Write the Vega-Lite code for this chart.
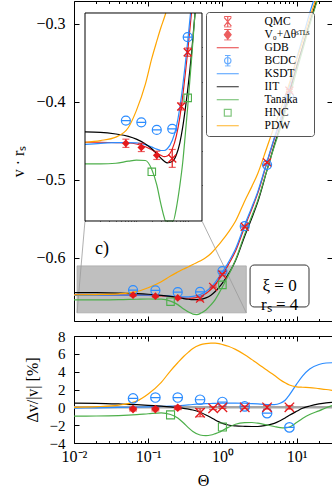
{
"$schema": "https://vega.github.io/schema/vega-lite/v6.json",
"padding": {"left": 10, "top": 0, "right": 2, "bottom": 2},
"config": {
  "font": "Liberation Serif",
  "view": {"stroke": "black", "strokeWidth": 1},
  "axis": {"grid": false, "domain": false, "tickColor": "black", "tickWidth": 1, "labelFont": "Liberation Serif", "labelFontSize": 16, "labelColor": "black", "titleFont": "Liberation Serif", "titleFontSize": 16, "titleFontWeight": "normal", "titleColor": "black", "zindex": 1, "labelFlush": false, "labelOverlap": false},
  "legend": {"symbolFillColor": "transparent"}
},
"datasets": {
  "curves": [
    {"t":0.01,"m":"GDB","v":-0.6476},{"t":0.02,"m":"GDB","v":-0.6476},{"t":0.04,"m":"GDB","v":-0.6477},{"t":0.07,"m":"GDB","v":-0.6478},{"t":0.1,"m":"GDB","v":-0.6481},{"t":0.15,"m":"GDB","v":-0.6489},{"t":0.2,"m":"GDB","v":-0.6498},{"t":0.25,"m":"GDB","v":-0.6507},{"t":0.3,"m":"GDB","v":-0.6514},{"t":0.35,"m":"GDB","v":-0.6518},{"t":0.4,"m":"GDB","v":-0.6516},{"t":0.5,"m":"GDB","v":-0.6496},{"t":0.6,"m":"GDB","v":-0.6458},{"t":0.7,"m":"GDB","v":-0.6405},{"t":0.8,"m":"GDB","v":-0.6342},{"t":0.9,"m":"GDB","v":-0.6276},{"t":1,"m":"GDB","v":-0.6212},{"t":1.184,"m":"GDB","v":-0.61},{"t":1.2,"m":"GDB","v":-0.609},{"t":1.5,"m":"GDB","v":-0.5915},{"t":2,"m":"GDB","v":-0.56},{"t":2.5,"m":"GDB","v":-0.537},{"t":3,"m":"GDB","v":-0.517},{"t":4,"m":"GDB","v":-0.4775},{"t":5,"m":"GDB","v":-0.4475},{"t":6,"m":"GDB","v":-0.425},{"t":7,"m":"GDB","v":-0.404},{"t":8,"m":"GDB","v":-0.3855},{"t":10,"m":"GDB","v":-0.354},{"t":12,"m":"GDB","v":-0.33},{"t":15,"m":"GDB","v":-0.299},{"t":20,"m":"GDB","v":-0.262},{"t":25,"m":"GDB","v":-0.233},{"t":30,"m":"GDB","v":-0.209},
    {"t":0.01,"m":"KSDT","v":-0.6482},{"t":0.02,"m":"KSDT","v":-0.6479},{"t":0.04,"m":"KSDT","v":-0.6477},{"t":0.07,"m":"KSDT","v":-0.6477},{"t":0.1,"m":"KSDT","v":-0.6478},{"t":0.15,"m":"KSDT","v":-0.6483},{"t":0.2,"m":"KSDT","v":-0.649},{"t":0.25,"m":"KSDT","v":-0.6496},{"t":0.3,"m":"KSDT","v":-0.65},{"t":0.35,"m":"KSDT","v":-0.65},{"t":0.4,"m":"KSDT","v":-0.6495},{"t":0.5,"m":"KSDT","v":-0.6471},{"t":0.6,"m":"KSDT","v":-0.6432},{"t":0.7,"m":"KSDT","v":-0.6377},{"t":0.8,"m":"KSDT","v":-0.6313},{"t":0.9,"m":"KSDT","v":-0.6247},{"t":1,"m":"KSDT","v":-0.6183},{"t":1.136,"m":"KSDT","v":-0.61},{"t":1.2,"m":"KSDT","v":-0.6061},{"t":1.5,"m":"KSDT","v":-0.5887},{"t":2,"m":"KSDT","v":-0.5574},{"t":2.5,"m":"KSDT","v":-0.5347},{"t":3,"m":"KSDT","v":-0.515},{"t":4,"m":"KSDT","v":-0.476},{"t":5,"m":"KSDT","v":-0.4462},{"t":6,"m":"KSDT","v":-0.4231},{"t":7,"m":"KSDT","v":-0.4008},{"t":8,"m":"KSDT","v":-0.3797},{"t":10,"m":"KSDT","v":-0.3448},{"t":12,"m":"KSDT","v":-0.3185},{"t":15,"m":"KSDT","v":-0.2861},{"t":20,"m":"KSDT","v":-0.2494},{"t":25,"m":"KSDT","v":-0.2214},{"t":30,"m":"KSDT","v":-0.1986},
    {"t":0.01,"m":"IIT","v":-0.6446},{"t":0.02,"m":"IIT","v":-0.6447},{"t":0.04,"m":"IIT","v":-0.6452},{"t":0.07,"m":"IIT","v":-0.6459},{"t":0.1,"m":"IIT","v":-0.6467},{"t":0.15,"m":"IIT","v":-0.6481},{"t":0.2,"m":"IIT","v":-0.6495},{"t":0.25,"m":"IIT","v":-0.6509},{"t":0.3,"m":"IIT","v":-0.6522},{"t":0.35,"m":"IIT","v":-0.6531},{"t":0.4,"m":"IIT","v":-0.6536},{"t":0.5,"m":"IIT","v":-0.6532},{"t":0.6,"m":"IIT","v":-0.6513},{"t":0.7,"m":"IIT","v":-0.6479},{"t":0.8,"m":"IIT","v":-0.6432},{"t":0.9,"m":"IIT","v":-0.6378},{"t":1,"m":"IIT","v":-0.6324},{"t":1.2,"m":"IIT","v":-0.6211},{"t":1.392,"m":"IIT","v":-0.61},{"t":1.5,"m":"IIT","v":-0.6038},{"t":2,"m":"IIT","v":-0.5719},{"t":2.5,"m":"IIT","v":-0.5485},{"t":3,"m":"IIT","v":-0.5281},{"t":4,"m":"IIT","v":-0.4871},{"t":5,"m":"IIT","v":-0.4556},{"t":6,"m":"IIT","v":-0.4314},{"t":7,"m":"IIT","v":-0.4088},{"t":8,"m":"IIT","v":-0.389},{"t":10,"m":"IIT","v":-0.3556},{"t":12,"m":"IIT","v":-0.3303},{"t":15,"m":"IIT","v":-0.2986},{"t":20,"m":"IIT","v":-0.261},{"t":25,"m":"IIT","v":-0.2318},{"t":30,"m":"IIT","v":-0.2079},
    {"t":0.01,"m":"Tanaka","v":-0.6539},{"t":0.02,"m":"Tanaka","v":-0.6539},{"t":0.04,"m":"Tanaka","v":-0.6537},{"t":0.07,"m":"Tanaka","v":-0.6531},{"t":0.1,"m":"Tanaka","v":-0.6528},{"t":0.15,"m":"Tanaka","v":-0.6529},{"t":0.2,"m":"Tanaka","v":-0.6555},{"t":0.25,"m":"Tanaka","v":-0.66},{"t":0.3,"m":"Tanaka","v":-0.6655},{"t":0.35,"m":"Tanaka","v":-0.6695},{"t":0.3685,"m":"Tanaka","v":-0.6705},{"t":0.4,"m":"Tanaka","v":-0.6722},{"t":0.45,"m":"Tanaka","v":-0.6728},{"t":0.5,"m":"Tanaka","v":-0.6715},{"t":0.521,"m":"Tanaka","v":-0.6705},{"t":0.6,"m":"Tanaka","v":-0.6668},{"t":0.7,"m":"Tanaka","v":-0.6604},{"t":0.8,"m":"Tanaka","v":-0.6535},{"t":0.9,"m":"Tanaka","v":-0.6452},{"t":1,"m":"Tanaka","v":-0.6374},{"t":1.2,"m":"Tanaka","v":-0.6227},{"t":1.39,"m":"Tanaka","v":-0.61},{"t":1.5,"m":"Tanaka","v":-0.6027},{"t":2,"m":"Tanaka","v":-0.5696},{"t":2.5,"m":"Tanaka","v":-0.5461},{"t":3,"m":"Tanaka","v":-0.5262},{"t":4,"m":"Tanaka","v":-0.487},{"t":5,"m":"Tanaka","v":-0.4571},{"t":6,"m":"Tanaka","v":-0.4347},{"t":7,"m":"Tanaka","v":-0.4133},{"t":8,"m":"Tanaka","v":-0.394},{"t":10,"m":"Tanaka","v":-0.36},{"t":12,"m":"Tanaka","v":-0.3341},{"t":15,"m":"Tanaka","v":-0.3014},{"t":20,"m":"Tanaka","v":-0.263},{"t":25,"m":"Tanaka","v":-0.2331},{"t":30,"m":"Tanaka","v":-0.2086},
    {"t":0.01,"m":"PDW","v":-0.6476},{"t":0.02,"m":"PDW","v":-0.6471},{"t":0.04,"m":"PDW","v":-0.6461},{"t":0.07,"m":"PDW","v":-0.6433},{"t":0.1,"m":"PDW","v":-0.6384},{"t":0.15,"m":"PDW","v":-0.6307},{"t":0.2,"m":"PDW","v":-0.6232},{"t":0.25,"m":"PDW","v":-0.6182},{"t":0.3,"m":"PDW","v":-0.6143},{"t":0.35,"m":"PDW","v":-0.6114},{"t":0.375,"m":"PDW","v":-0.61},{"t":0.4,"m":"PDW","v":-0.6086},{"t":0.5,"m":"PDW","v":-0.6041},{"t":0.6,"m":"PDW","v":-0.5996},{"t":0.7,"m":"PDW","v":-0.5944},{"t":0.8,"m":"PDW","v":-0.5885},{"t":0.9,"m":"PDW","v":-0.5827},{"t":1,"m":"PDW","v":-0.5774},{"t":1.2,"m":"PDW","v":-0.5673},{"t":1.5,"m":"PDW","v":-0.5531},{"t":2,"m":"PDW","v":-0.527},{"t":2.5,"m":"PDW","v":-0.5083},{"t":3,"m":"PDW","v":-0.4917},{"t":4,"m":"PDW","v":-0.4577},{"t":5,"m":"PDW","v":-0.4314},{"t":6,"m":"PDW","v":-0.4118},{"t":7,"m":"PDW","v":-0.3929},{"t":8,"m":"PDW","v":-0.3759},{"t":10,"m":"PDW","v":-0.3459},{"t":12,"m":"PDW","v":-0.3226},{"t":15,"m":"PDW","v":-0.2924},{"t":20,"m":"PDW","v":-0.2565},{"t":25,"m":"PDW","v":-0.2283},{"t":30,"m":"PDW","v":-0.205}
  ],
  "pts": [
    {"s":"QMC","t":0.5,"v":-0.6523,"e":0.0026},{"s":"QMC","t":0.75,"v":-0.6372,"e":0.001},{"s":"QMC","t":1,"v":-0.6214,"e":0.0012},{"s":"QMC","t":2,"v":-0.56,"e":0.001},{"s":"QMC","t":4,"v":-0.4775,"e":0.0012},{"s":"QMC","t":8,"v":-0.3855,"e":0.0015},
    {"s":"V0","t":0.0625,"v":-0.6479,"e":0.0012},{"s":"V0","t":0.125,"v":-0.6491,"e":0.0012},{"s":"V0","t":0.25,"v":-0.6514,"e":0.0012},
    {"s":"BCDC","t":0.0625,"v":-0.6413,"e":0},{"s":"BCDC","t":0.125,"v":-0.6418,"e":0},{"s":"BCDC","t":0.25,"v":-0.644,"e":0},{"s":"BCDC","t":0.5,"v":-0.6437,"e":0},{"s":"BCDC","t":1,"v":-0.617,"e":0},{"s":"BCDC","t":2,"v":-0.5594,"e":0},{"s":"BCDC","t":4,"v":-0.4806,"e":0},{"s":"BCDC","t":8,"v":-0.3942,"e":0},
    {"s":"HNC","t":0.2,"v":-0.6562,"e":0},{"s":"HNC","t":1,"v":-0.6347,"e":0}
  ],
  "dev": [
    {"t":0.01,"m":"KSDT","v":-0.1},{"t":0.02,"m":"KSDT","v":-0.05},{"t":0.04,"m":"KSDT","v":0},{"t":0.07,"m":"KSDT","v":0.02},{"t":0.1,"m":"KSDT","v":0.05},{"t":0.15,"m":"KSDT","v":0.1},{"t":0.2,"m":"KSDT","v":0.13},{"t":0.25,"m":"KSDT","v":0.17},{"t":0.3,"m":"KSDT","v":0.22},{"t":0.35,"m":"KSDT","v":0.27},{"t":0.4,"m":"KSDT","v":0.32},{"t":0.5,"m":"KSDT","v":0.38},{"t":0.6,"m":"KSDT","v":0.41},{"t":0.7,"m":"KSDT","v":0.43},{"t":0.8,"m":"KSDT","v":0.45},{"t":0.9,"m":"KSDT","v":0.46},{"t":1,"m":"KSDT","v":0.47},{"t":1.2,"m":"KSDT","v":0.48},{"t":1.5,"m":"KSDT","v":0.48},{"t":2,"m":"KSDT","v":0.46},{"t":2.5,"m":"KSDT","v":0.42},{"t":3,"m":"KSDT","v":0.38},{"t":4,"m":"KSDT","v":0.32},{"t":5,"m":"KSDT","v":0.3},{"t":6,"m":"KSDT","v":0.45},{"t":7,"m":"KSDT","v":0.8},{"t":8,"m":"KSDT","v":1.4},{"t":10,"m":"KSDT","v":2.6},{"t":12,"m":"KSDT","v":3.5},{"t":15,"m":"KSDT","v":4.3},{"t":20,"m":"KSDT","v":4.8},{"t":25,"m":"KSDT","v":4.97},{"t":30,"m":"KSDT","v":5.0},
    {"t":0.01,"m":"IIT","v":0.47},{"t":0.02,"m":"IIT","v":0.45},{"t":0.04,"m":"IIT","v":0.38},{"t":0.07,"m":"IIT","v":0.3},{"t":0.1,"m":"IIT","v":0.22},{"t":0.15,"m":"IIT","v":0.13},{"t":0.2,"m":"IIT","v":0.05},{"t":0.25,"m":"IIT","v":-0.03},{"t":0.3,"m":"IIT","v":-0.12},{"t":0.35,"m":"IIT","v":-0.2},{"t":0.4,"m":"IIT","v":-0.3},{"t":0.5,"m":"IIT","v":-0.55},{"t":0.6,"m":"IIT","v":-0.85},{"t":0.7,"m":"IIT","v":-1.15},{"t":0.8,"m":"IIT","v":-1.42},{"t":0.9,"m":"IIT","v":-1.63},{"t":1,"m":"IIT","v":-1.8},{"t":1.2,"m":"IIT","v":-1.98},{"t":1.5,"m":"IIT","v":-2.08},{"t":2,"m":"IIT","v":-2.13},{"t":2.5,"m":"IIT","v":-2.15},{"t":3,"m":"IIT","v":-2.15},{"t":4,"m":"IIT","v":-2.0},{"t":5,"m":"IIT","v":-1.8},{"t":6,"m":"IIT","v":-1.5},{"t":7,"m":"IIT","v":-1.2},{"t":8,"m":"IIT","v":-0.9},{"t":10,"m":"IIT","v":-0.45},{"t":12,"m":"IIT","v":-0.1},{"t":15,"m":"IIT","v":0.15},{"t":20,"m":"IIT","v":0.38},{"t":25,"m":"IIT","v":0.5},{"t":30,"m":"IIT","v":0.55},
    {"t":0.01,"m":"Tanaka","v":-0.98},{"t":0.02,"m":"Tanaka","v":-0.97},{"t":0.04,"m":"Tanaka","v":-0.92},{"t":0.07,"m":"Tanaka","v":-0.82},{"t":0.1,"m":"Tanaka","v":-0.72},{"t":0.15,"m":"Tanaka","v":-0.62},{"t":0.2,"m":"Tanaka","v":-0.8},{"t":0.25,"m":"Tanaka","v":-1.2},{"t":0.3,"m":"Tanaka","v":-1.75},{"t":0.35,"m":"Tanaka","v":-2.3},{"t":0.4,"m":"Tanaka","v":-2.7},{"t":0.5,"m":"Tanaka","v":-3.1},{"t":0.6,"m":"Tanaka","v":-3.17},{"t":0.7,"m":"Tanaka","v":-3.1},{"t":0.8,"m":"Tanaka","v":-2.95},{"t":0.9,"m":"Tanaka","v":-2.8},{"t":1,"m":"Tanaka","v":-2.6},{"t":1.2,"m":"Tanaka","v":-2.25},{"t":1.5,"m":"Tanaka","v":-1.9},{"t":2,"m":"Tanaka","v":-1.72},{"t":2.5,"m":"Tanaka","v":-1.7},{"t":3,"m":"Tanaka","v":-1.78},{"t":4,"m":"Tanaka","v":-1.98},{"t":5,"m":"Tanaka","v":-2.15},{"t":6,"m":"Tanaka","v":-2.28},{"t":7,"m":"Tanaka","v":-2.3},{"t":8,"m":"Tanaka","v":-2.2},{"t":10,"m":"Tanaka","v":-1.7},{"t":12,"m":"Tanaka","v":-1.25},{"t":15,"m":"Tanaka","v":-0.8},{"t":20,"m":"Tanaka","v":-0.4},{"t":25,"m":"Tanaka","v":-0.05},{"t":30,"m":"Tanaka","v":0.2},
    {"t":0.01,"m":"PDW","v":0},{"t":0.02,"m":"PDW","v":0.07},{"t":0.04,"m":"PDW","v":0.25},{"t":0.07,"m":"PDW","v":0.7},{"t":0.1,"m":"PDW","v":1.5},{"t":0.15,"m":"PDW","v":2.8},{"t":0.2,"m":"PDW","v":4.1},{"t":0.25,"m":"PDW","v":5.0},{"t":0.3,"m":"PDW","v":5.7},{"t":0.35,"m":"PDW","v":6.2},{"t":0.4,"m":"PDW","v":6.6},{"t":0.5,"m":"PDW","v":7.0},{"t":0.6,"m":"PDW","v":7.15},{"t":0.7,"m":"PDW","v":7.2},{"t":0.8,"m":"PDW","v":7.2},{"t":0.9,"m":"PDW","v":7.15},{"t":1,"m":"PDW","v":7.05},{"t":1.2,"m":"PDW","v":6.85},{"t":1.5,"m":"PDW","v":6.5},{"t":2,"m":"PDW","v":5.9},{"t":2.5,"m":"PDW","v":5.35},{"t":3,"m":"PDW","v":4.9},{"t":4,"m":"PDW","v":4.15},{"t":5,"m":"PDW","v":3.6},{"t":6,"m":"PDW","v":3.1},{"t":7,"m":"PDW","v":2.75},{"t":8,"m":"PDW","v":2.5},{"t":10,"m":"PDW","v":2.3},{"t":12,"m":"PDW","v":2.25},{"t":15,"m":"PDW","v":2.22},{"t":20,"m":"PDW","v":2.1},{"t":25,"m":"PDW","v":2.0},{"t":30,"m":"PDW","v":1.9}
  ],
  "devpts": [
    {"s":"QMC","t":0.5,"v":-0.6,"e":0.45},{"s":"QMC","t":0.75,"v":-0.1,"e":0.15},{"s":"QMC","t":1,"v":0,"e":0.12},{"s":"QMC","t":2,"v":0,"e":0.15},{"s":"QMC","t":4,"v":0,"e":0.2},{"s":"QMC","t":8,"v":0,"e":0.2},
    {"s":"V0","t":0.0625,"v":-0.2,"e":0.2},{"s":"V0","t":0.125,"v":-0.2,"e":0.2},{"s":"V0","t":0.25,"v":-0.05,"e":0.2},
    {"s":"BCDC","t":0.0625,"v":1.0,"e":0},{"s":"BCDC","t":0.125,"v":1.1,"e":0},{"s":"BCDC","t":0.25,"v":1.1,"e":0},{"s":"BCDC","t":0.5,"v":0.85,"e":0},{"s":"BCDC","t":1,"v":0.6,"e":0},{"s":"BCDC","t":2,"v":0.1,"e":0},{"s":"BCDC","t":4,"v":-0.65,"e":0},{"s":"BCDC","t":8,"v":-2.25,"e":0},
    {"s":"HNC","t":0.2,"v":-0.85,"e":0},{"s":"HNC","t":1,"v":-2.2,"e":0}
  ],
  "legend": [{"s":"QMC"},{"s":"V0"},{"s":"GDB"},{"s":"BCDC"},{"s":"KSDT"},{"s":"IIT"},{"s":"Tanaka"},{"s":"HNC"},{"s":"PDW"}]
},
"spacing": 6,
"resolve": {"scale": {"color": "independent", "stroke": "independent", "fill": "independent", "shape": "independent"}, "legend": {"color": "independent", "stroke": "independent", "fill": "independent", "shape": "independent"}},
"vconcat": [
{
  "width": 258, "height": 320,
  "resolve": {"scale": {"x": "independent", "y": "independent"}},
  "layer": [
    {"layer": [
      {"data": {"values": [{}]}, "mark": {"type": "rect", "fill": "#bfbfbf", "stroke": "#a8a8a8", "strokeWidth": 0.8},
       "encoding": {
         "x": {"datum": 0.011, "type": "quantitative", "scale": {"type": "log", "domain": [0.01, 30], "nice": false},
               "axis": {"orient": "bottom", "values": [0.01,0.02,0.03,0.04,0.05,0.06,0.07,0.08,0.09,0.1,0.2,0.3,0.4,0.5,0.6,0.7,0.8,0.9,1,2,3,4,5,6,7,8,9,10,20,30], "labels": false, "title": null,
                        "tickSize": {"condition": {"test": "datum.value == 0.01 || datum.value == 0.1 || datum.value == 1 || datum.value == 10", "value": -5}, "value": -2.5}}},
         "x2": {"datum": 2.1},
         "y": {"datum": -0.6705, "type": "quantitative", "title": "v · rₛ", "scale": {"domain": [-0.681, -0.2705], "nice": false, "zero": false},
               "axis": {"orient": "left", "values": [-0.6, -0.5, -0.4, -0.3], "format": ".1f", "tickSize": -5, "labelPadding": 14, "title": "v · rₛ", "titlePadding": 9, "labelOverlap": false}},
         "y2": {"datum": -0.6103}}},
      {"data": {"values": [{}]}, "mark": {"type": "rule", "color": "#9a9a9a", "strokeWidth": 0.8},
       "encoding": {"x": {"datum": 0.01406}, "y": {"datum": -0.5527, "title": "v · rₛ"}, "x2": {"datum": 0.011}, "y2": {"datum": -0.6705}}},
      {"data": {"values": [{}]}, "mark": {"type": "rule", "color": "#9a9a9a", "strokeWidth": 0.8},
       "encoding": {"x": {"datum": 0.5309}, "y": {"datum": -0.5527, "title": "v · rₛ"}, "x2": {"datum": 2.1}, "y2": {"datum": -0.6705}}},
      {"data": {"name": "curves"}, "mark": {"type": "line", "interpolate": "monotone", "strokeWidth": 1.2, "clip": true},
       "encoding": {"x": {"field": "t", "type": "quantitative", "title": null}, "y": {"field": "v", "type": "quantitative", "title": "v · rₛ"},
         "color": {"field": "m", "type": "nominal", "scale": {"domain": ["GDB","KSDT","IIT","Tanaka","PDW"], "range": ["#e41a1c","#2b8cff","#000000","#4daf4a","#ffa500"]}, "legend": null}}},
      {"data": {"name": "pts"}, "transform": [{"filter": "datum.s == 'QMC' || datum.s == 'V0'"}],
       "mark": {"type": "errorbar", "ticks": {"size": 7}, "color": "#e41a1c", "thickness": 1.2},
       "encoding": {"x": {"field": "t", "type": "quantitative", "title": null}, "y": {"field": "v", "type": "quantitative", "title": "v · rₛ"}, "yError": {"field": "e"}}},
      {"data": {"name": "pts"}, "transform": [{"filter": "datum.s == 'BCDC'"}],
       "mark": {"type": "point", "shape": "M-1,0A1,1,0,1,1,1,0A1,1,0,1,1,-1,0M-1,0H1", "size": 81, "filled": false, "color": "#2b8cff", "strokeWidth": 1.2, "opacity": 1},
       "encoding": {"x": {"field": "t", "type": "quantitative", "title": null}, "y": {"field": "v", "type": "quantitative", "title": "v · rₛ"}}},
      {"data": {"name": "pts"}, "transform": [{"filter": "datum.s == 'V0'"}],
       "mark": {"type": "point", "shape": "diamond", "size": 60, "filled": true, "color": "#e41a1c", "opacity": 1},
       "encoding": {"x": {"field": "t", "type": "quantitative", "title": null}, "y": {"field": "v", "type": "quantitative", "title": "v · rₛ"}}},
      {"data": {"name": "pts"}, "transform": [{"filter": "datum.s == 'QMC'"}],
       "mark": {"type": "point", "shape": "M-1,-1L1,1M-1,1L1,-1", "size": 64, "filled": false, "color": "#e41a1c", "strokeWidth": 1.3, "opacity": 1},
       "encoding": {"x": {"field": "t", "type": "quantitative", "title": null}, "y": {"field": "v", "type": "quantitative", "title": "v · rₛ"}}},
      {"data": {"name": "pts"}, "transform": [{"filter": "datum.s == 'HNC'"}],
       "mark": {"type": "point", "shape": "square", "size": 56, "filled": false, "color": "#4daf4a", "strokeWidth": 1.1, "opacity": 1},
       "encoding": {"x": {"field": "t", "type": "quantitative", "title": null}, "y": {"field": "v", "type": "quantitative", "title": "v · rₛ"}}},
      {"data": {"name": "legend"}, "mark": {"type": "point", "clip": true, "strokeWidth": 1.2, "size": 64},
       "encoding": {
         "x": {"datum": 100000}, "y": {"datum": 0, "title": "v · rₛ"},
         "shape": {"field": "s", "type": "nominal",
           "scale": {"domain": ["QMC","V0","GDB","BCDC","KSDT","IIT","Tanaka","HNC","PDW"],
                     "range": ["M-0.9,-1.35H0.9M-0.9,1.35H0.9M-0.9,-1.1L0.9,1.1M-0.9,1.1L0.9,-1.1M0,-1.35V1.35",
                               "M0,-1.1L0.85,0L0,1.1L-0.85,0ZM-0.9,-1.35H0.9M-0.9,1.35H0.9M0,-1.35V1.35",
                               "M-2.75,0H2.75",
                               "M-0.8,0A0.8,0.8,0,1,1,0.8,0A0.8,0.8,0,1,1,-0.8,0M0,-1.35V1.35M-0.7,-1.35H0.7M-0.7,1.35H0.7",
                               "M-2.75,0H2.75","M-2.75,0H2.75","M-2.75,0H2.75",
                               "M-0.85,-0.85H0.85V0.85H-0.85Z",
                               "M-2.75,0H2.75"]},
           "legend": {"orient": "none", "legendX": 132, "legendY": 11, "direction": "vertical", "title": null, "symbolSize": 64, "symbolStrokeWidth": 1.2, "labelFontSize": 11.5, "labelFont": "Liberation Serif", "labelColor": "black", "padding": 4, "rowPadding": 0, "clipHeight": 11.4, "symbolOffset": 12, "labelOffset": 31, "fillColor": "rgba(255,255,255,0.8)", "strokeColor": "#555555", "cornerRadius": 3,
                      "labelExpr": "datum.label == 'V0' ? 'V₀+Δθˢᵀᴸˢ\u00a0\u00a0\u00a0' : datum.label"}},
         "stroke": {"field": "s", "type": "nominal",
           "scale": {"domain": ["QMC","V0","GDB","BCDC","KSDT","IIT","Tanaka","HNC","PDW"], "range": ["#e41a1c","#e41a1c","#e41a1c","#2b8cff","#2b8cff","#000000","#4daf4a","#4daf4a","#ffa500"]},
           "legend": {"orient": "none", "legendX": 132, "legendY": 11, "direction": "vertical", "title": null, "symbolSize": 64, "symbolStrokeWidth": 1.2, "labelFontSize": 11.5, "labelFont": "Liberation Serif", "labelColor": "black", "padding": 4, "rowPadding": 0, "clipHeight": 11.4, "symbolOffset": 12, "labelOffset": 31, "fillColor": "rgba(255,255,255,0.8)", "strokeColor": "#555555", "cornerRadius": 3,
                      "labelExpr": "datum.label == 'V0' ? 'V₀+Δθˢᵀᴸˢ\u00a0\u00a0\u00a0' : datum.label"}},
         "fill": {"field": "s", "type": "nominal",
           "scale": {"domain": ["QMC","V0","GDB","BCDC","KSDT","IIT","Tanaka","HNC","PDW"], "range": ["transparent","#e41a1c","transparent","transparent","transparent","transparent","transparent","transparent","transparent"]},
           "legend": {"orient": "none", "legendX": 132, "legendY": 11, "direction": "vertical", "title": null, "symbolSize": 64, "symbolStrokeWidth": 1.2, "labelFontSize": 11.5, "labelFont": "Liberation Serif", "labelColor": "black", "padding": 4, "rowPadding": 0, "clipHeight": 11.4, "symbolOffset": 12, "labelOffset": 31, "fillColor": "rgba(255,255,255,0.8)", "strokeColor": "#555555", "cornerRadius": 3,
                      "labelExpr": "datum.label == 'V0' ? 'V₀+Δθˢᵀᴸˢ\u00a0\u00a0\u00a0' : datum.label"}}
       }}
    ]},
    {"layer": [
      {"data": {"values": [{}]}, "mark": {"type": "rect", "fill": "white", "stroke": "#333333", "strokeWidth": 1, "cornerRadius": 4},
       "encoding": {
         "x": {"datum": 2.36, "type": "quantitative", "scale": {"type": "log", "domain": [0.01, 30], "nice": false},
               "axis": {"orient": "top", "values": [0.01,0.02,0.03,0.04,0.05,0.06,0.07,0.08,0.09,0.1,0.2,0.3,0.4,0.5,0.6,0.7,0.8,0.9,1,2,3,4,5,6,7,8,9,10,20,30], "labels": false, "title": null,
                        "tickSize": {"condition": {"test": "datum.value == 0.01 || datum.value == 0.1 || datum.value == 1 || datum.value == 10", "value": -5}, "value": -2.5}}},
         "x2": {"datum": 14.7},
         "y": {"datum": -0.663, "type": "quantitative", "scale": {"domain": [-0.681, -0.2705], "nice": false, "zero": false},
               "axis": {"orient": "right", "values": [-0.6, -0.5, -0.4, -0.3], "labels": false, "title": null, "tickSize": -5}},
         "y2": {"datum": -0.6092}}},
      {"data": {"values": [{}]}, "mark": {"type": "text", "text": ["ξ = 0", "rₛ = 4"], "fontSize": 17, "lineHeight": 19, "font": "Liberation Serif", "align": "center", "baseline": "middle", "color": "black"},
       "encoding": {"x": {"datum": 5.9}, "y": {"datum": -0.6361}}},
      {"data": {"values": [{}]}, "mark": {"type": "text", "text": "c)", "fontSize": 18, "font": "Liberation Serif", "align": "center", "baseline": "middle", "color": "black"},
       "encoding": {"x": {"datum": 0.0238}, "y": {"datum": -0.5886}}}
    ]},
    {"layer": [
      {"data": {"values": [{}]}, "mark": {"type": "rect", "fill": "white"},
       "encoding": {
         "x": {"datum": 0.01, "type": "quantitative", "scale": {"type": "log", "domain": [0.006105, 647], "nice": false},
               "axis": {"orient": "bottom", "offset": -100, "values": [0.01,0.02,0.03,0.04,0.05,0.06,0.07,0.08,0.09,0.1,0.2,0.3,0.4,0.5,0.6,0.7,0.8,0.9,1], "labels": false, "title": null,
                        "tickSize": {"condition": {"test": "datum.value == 0.01 || datum.value == 0.1 || datum.value == 1", "value": -5}, "value": -2.5}}},
         "x2": {"datum": 1.9},
         "y": {"datum": -0.6705, "type": "quantitative", "scale": {"domain": [-0.69959, -0.60651], "nice": false, "zero": false},
               "axis": {"orient": "left", "offset": -11, "values": [-0.62, -0.63, -0.64, -0.65, -0.66], "labels": false, "title": null, "tickSize": -5}},
         "y2": {"datum": -0.61}}},
      {"data": {"name": "curves"}, "transform": [{"filter": "datum.v <= -0.61 && datum.v >= -0.6705 && datum.t <= 1.9"}],
       "mark": {"type": "line", "interpolate": "monotone", "strokeWidth": 1.2},
       "encoding": {"x": {"field": "t", "type": "quantitative", "title": null}, "y": {"field": "v", "type": "quantitative", "title": null},
         "color": {"field": "m", "type": "nominal", "scale": {"domain": ["GDB","KSDT","IIT","Tanaka","PDW"], "range": ["#e41a1c","#2b8cff","#000000","#4daf4a","#ffa500"]}, "legend": null}}},
      {"data": {"name": "pts"}, "transform": [{"filter": "(datum.s == 'QMC' || datum.s == 'V0') && datum.t <= 1.9"}],
       "mark": {"type": "errorbar", "ticks": {"size": 7}, "color": "#e41a1c", "thickness": 1.2},
       "encoding": {"x": {"field": "t", "type": "quantitative", "title": null}, "y": {"field": "v", "type": "quantitative", "title": null}, "yError": {"field": "e"}}},
      {"data": {"name": "pts"}, "transform": [{"filter": "datum.s == 'BCDC' && datum.t <= 1.9"}],
       "mark": {"type": "point", "shape": "M-1,0A1,1,0,1,1,1,0A1,1,0,1,1,-1,0M-1,0H1", "size": 81, "filled": false, "color": "#2b8cff", "strokeWidth": 1.2, "opacity": 1},
       "encoding": {"x": {"field": "t", "type": "quantitative", "title": null}, "y": {"field": "v", "type": "quantitative", "title": null}}},
      {"data": {"name": "pts"}, "transform": [{"filter": "datum.s == 'V0' && datum.t <= 1.9"}],
       "mark": {"type": "point", "shape": "diamond", "size": 60, "filled": true, "color": "#e41a1c", "opacity": 1},
       "encoding": {"x": {"field": "t", "type": "quantitative", "title": null}, "y": {"field": "v", "type": "quantitative", "title": null}}},
      {"data": {"name": "pts"}, "transform": [{"filter": "datum.s == 'QMC' && datum.t <= 1.9"}],
       "mark": {"type": "point", "shape": "M-1,-1L1,1M-1,1L1,-1", "size": 64, "filled": false, "color": "#e41a1c", "strokeWidth": 1.3, "opacity": 1},
       "encoding": {"x": {"field": "t", "type": "quantitative", "title": null}, "y": {"field": "v", "type": "quantitative", "title": null}}},
      {"data": {"name": "pts"}, "transform": [{"filter": "datum.s == 'HNC' && datum.t <= 1.9"}],
       "mark": {"type": "point", "shape": "square", "size": 56, "filled": false, "color": "#4daf4a", "strokeWidth": 1.1, "opacity": 1},
       "encoding": {"x": {"field": "t", "type": "quantitative", "title": null}, "y": {"field": "v", "type": "quantitative", "title": null}}}
    ]},
    {"layer": [
      {"data": {"values": [{}]}, "mark": {"type": "rect", "fill": "transparent", "stroke": "black", "strokeWidth": 1},
       "encoding": {
         "x": {"datum": 0.01, "type": "quantitative", "scale": {"type": "log", "domain": [0.006105, 647], "nice": false},
               "axis": {"orient": "top", "offset": -12, "values": [0.01,0.02,0.03,0.04,0.05,0.06,0.07,0.08,0.09,0.1,0.2,0.3,0.4,0.5,0.6,0.7,0.8,0.9,1], "labels": false, "title": null,
                        "tickSize": {"condition": {"test": "datum.value == 0.01 || datum.value == 0.1 || datum.value == 1", "value": -5}, "value": -2.5}}},
         "x2": {"datum": 1.9},
         "y": {"datum": -0.6705, "type": "quantitative", "scale": {"domain": [-0.69959, -0.60651], "nice": false, "zero": false},
               "axis": {"orient": "right", "offset": -130, "values": [-0.62, -0.63, -0.64, -0.65, -0.66], "labels": false, "title": null, "tickSize": -5}},
         "y2": {"datum": -0.61}}}
    ]}
  ]
},
{
  "width": 258, "height": 107,
  "resolve": {"scale": {"x": "independent", "y": "independent"}},
  "layer": [
    {"layer": [
      {"data": {"values": [{}]}, "mark": {"type": "rule", "color": "#a6a6a6", "strokeWidth": 2.5},
       "encoding": {"y": {"datum": 0, "type": "quantitative", "title": "Δv/|v| [%]", "scale": {"domain": [-4, 8], "nice": false, "zero": false},
         "axis": {"orient": "left", "values": [-4, -2, 0, 2, 4, 6, 8], "format": "d", "tickSize": -5, "labelPadding": 14, "labelFontSize": 15, "title": "Δv/|v| [%]", "titlePadding": 9, "labelOverlap": false}}}},
      {"data": {"name": "dev"}, "mark": {"type": "line", "interpolate": "monotone", "strokeWidth": 1.2, "clip": true},
       "encoding": {
         "x": {"field": "t", "type": "quantitative", "title": "Θ", "scale": {"type": "log", "domain": [0.01, 30], "nice": false},
               "axis": {"orient": "bottom", "values": [0.01,0.02,0.03,0.04,0.05,0.06,0.07,0.08,0.09,0.1,0.2,0.3,0.4,0.5,0.6,0.7,0.8,0.9,1,2,3,4,5,6,7,8,9,10,20,30],
                        "tickSize": {"condition": {"test": "datum.value == 0.01 || datum.value == 0.1 || datum.value == 1 || datum.value == 10", "value": -5}, "value": -2.5},
                        "labelExpr": "datum.value == 0.01 ? '10⁻²' : datum.value == 0.1 ? '10⁻¹' : datum.value == 1 ? '10⁰' : datum.value == 10 ? '10¹' : ''",
                        "labelPadding": 10, "labelOverlap": false, "title": "Θ", "titlePadding": 6}},
         "y": {"field": "v", "type": "quantitative", "title": "Δv/|v| [%]",
               "axis": {"orient": "left", "values": [-4, -2, 0, 2, 4, 6, 8], "format": "d", "tickSize": -5, "labelPadding": 14, "labelFontSize": 15, "title": "Δv/|v| [%]", "titlePadding": 9, "labelOverlap": false}},
         "color": {"field": "m", "type": "nominal", "scale": {"domain": ["KSDT","IIT","Tanaka","PDW"], "range": ["#2b8cff","#000000","#4daf4a","#ffa500"]}, "legend": null}}}
    ]},
    {"layer": [
      {"data": {"name": "devpts"}, "transform": [{"filter": "datum.s == 'BCDC'"}],
       "mark": {"type": "point", "shape": "M-1,0A1,1,0,1,1,1,0A1,1,0,1,1,-1,0M-1,0H1", "size": 90, "filled": false, "color": "#2b8cff", "strokeWidth": 1.2, "opacity": 1},
       "encoding": {
         "x": {"field": "t", "type": "quantitative", "title": null, "scale": {"type": "log", "domain": [0.01, 30], "nice": false},
               "axis": {"orient": "top", "values": [0.01,0.02,0.03,0.04,0.05,0.06,0.07,0.08,0.09,0.1,0.2,0.3,0.4,0.5,0.6,0.7,0.8,0.9,1,2,3,4,5,6,7,8,9,10,20,30], "labels": false, "title": null,
                        "tickSize": {"condition": {"test": "datum.value == 0.01 || datum.value == 0.1 || datum.value == 1 || datum.value == 10", "value": -5}, "value": -2.5}}},
         "y": {"field": "v", "type": "quantitative", "title": null, "scale": {"domain": [-4, 8], "nice": false, "zero": false},
               "axis": {"orient": "right", "values": [-4, -2, 0, 2, 4, 6, 8], "labels": false, "title": null, "tickSize": -5}}}},
      {"data": {"name": "devpts"}, "transform": [{"filter": "datum.s == 'QMC' || datum.s == 'V0'"}],
       "mark": {"type": "errorbar", "ticks": {"size": 8}, "color": "#e41a1c", "thickness": 1.2},
       "encoding": {"x": {"field": "t", "type": "quantitative", "title": null}, "y": {"field": "v", "type": "quantitative", "title": null}, "yError": {"field": "e"}}},
      {"data": {"name": "devpts"}, "transform": [{"filter": "datum.s == 'V0'"}],
       "mark": {"type": "point", "shape": "diamond", "size": 75, "filled": true, "color": "#e41a1c", "opacity": 1},
       "encoding": {"x": {"field": "t", "type": "quantitative", "title": null}, "y": {"field": "v", "type": "quantitative", "title": null}}},
      {"data": {"name": "devpts"}, "transform": [{"filter": "datum.s == 'QMC'"}],
       "mark": {"type": "point", "shape": "M-1,-1L1,1M-1,1L1,-1", "size": 90, "filled": false, "color": "#e41a1c", "strokeWidth": 1.3, "opacity": 1},
       "encoding": {"x": {"field": "t", "type": "quantitative", "title": null}, "y": {"field": "v", "type": "quantitative", "title": null}}},
      {"data": {"name": "devpts"}, "transform": [{"filter": "datum.s == 'HNC'"}],
       "mark": {"type": "point", "shape": "square", "size": 64, "filled": false, "color": "#4daf4a", "strokeWidth": 1.1, "opacity": 1},
       "encoding": {"x": {"field": "t", "type": "quantitative", "title": null}, "y": {"field": "v", "type": "quantitative", "title": null}}}
    ]}
  ]
}
]
}
